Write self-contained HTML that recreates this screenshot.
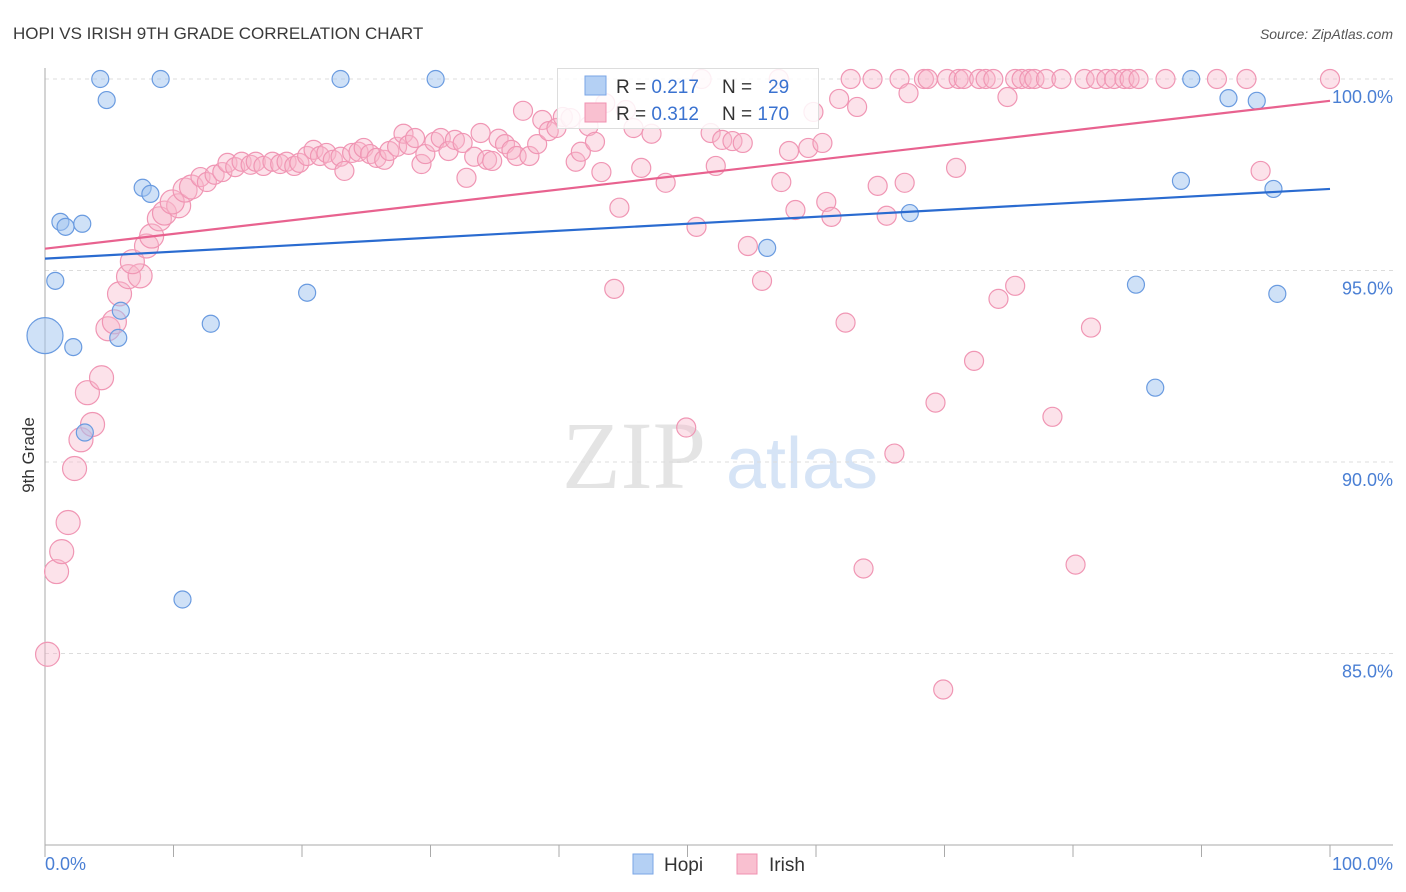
<!DOCTYPE html>
<html><head><meta charset="utf-8"><style>
body{margin:0;background:#fff;font-family:"Liberation Sans",sans-serif;}
svg{display:block}
</style></head><body>
<svg id="chart" width="1406" height="892" xmlns="http://www.w3.org/2000/svg">
<text x="13" y="39" font-size="17" fill="#3a3a3a">HOPI VS IRISH 9TH GRADE CORRELATION CHART</text>
<text x="1393" y="39" font-size="14" fill="#555" font-style="italic" text-anchor="end">Source: ZipAtlas.com</text>
<g>
<text x="634" y="488" font-size="96" font-family="Liberation Serif,serif" fill="#e4e4e4" text-anchor="middle">ZIP</text>
<text x="802" y="488" font-size="72" fill="#d6e4f6" text-anchor="middle">atlas</text>
</g>
<g id="grid"></g>
<g id="axes"></g>
<g id="pts"></g>
<g id="trends"></g>
<text transform="translate(34,455) rotate(-90)" font-size="17" fill="#333" text-anchor="middle">9th Grade</text>
<g>
<rect x="557.5" y="68.5" width="261" height="60" fill="#fff" fill-opacity="0.85" stroke="#ddd"/>
<rect x="585" y="76" width="21" height="19" fill="#b4d0f4" stroke="#7aa6e6"/>
<rect x="585" y="103" width="21" height="19" fill="#f9c0d0" stroke="#f090b0"/>
<text x="616" y="93" font-size="19" fill="#333">R = <tspan fill="#3a72d0">0.217</tspan></text>
<text x="722" y="93" font-size="19" fill="#333">N = <tspan fill="#3a72d0" x="768">29</tspan></text>
<text x="616" y="120" font-size="19" fill="#333">R = <tspan fill="#3a72d0">0.312</tspan></text>
<text x="722" y="120" font-size="19" fill="#333">N = <tspan fill="#3a72d0">170</tspan></text>
</g>
<g>
<rect x="633" y="854" width="20" height="20" fill="#b4d0f4" stroke="#7aa6e6"/>
<text x="664" y="871" font-size="19" fill="#333">Hopi</text>
<rect x="737" y="854" width="20" height="20" fill="#f9c0d0" stroke="#f090b0"/>
<text x="769" y="871" font-size="19" fill="#333">Irish</text>
</g>
</svg>
<script>
const hopiX=[4.3,9.0,23.0,30.4,4.8,89.2,92.1,94.3,7.6,8.2,1.2,1.6,2.9,0.8,0,2.2,5.9,5.7,20.4,12.9,3.1,10.7,67.3,56.2,88.4,95.6,84.9,95.9,86.4];
const hopiY=[100,100,100,100,99.45,100,99.5,99.43,97.16,97.0,96.27,96.14,96.22,94.73,93.3,93.0,93.95,93.24,94.42,93.61,90.77,86.41,96.5,95.59,97.34,97.13,94.63,94.39,91.94];
const irishX=[0.2,0.9,1.3,1.8,2.3,2.8,3.7,3.3,4.4,4.9,5.4,5.8,6.5,7.4,6.8,7.9,8.3,8.9,9.3,10.4,9.9,10.9,11.4,12.1,12.6,13.2,13.8,14.2,14.8,15.3,16.0,16.4,17.0,17.7,18.3,18.8,19.4,19.8,20.4,20.9,21.4,21.9,22.4,23.0,23.3,23.9,24.4,24.8,25.3,25.8,26.4,26.8,27.4,27.9,28.3,28.8,29.3,29.6,30.3,30.8,31.4,31.9,32.5,32.8,33.4,33.9,34.4,34.8,35.3,35.8,36.3,36.7,37.2,37.7,38.3,38.7,39.2,39.8,40.3,40.9,41.3,41.7,42.3,42.8,43.3,43.6,44.3,44.7,45.2,45.8,46.4,47.2,48.3,49.9,50.7,51.1,51.8,52.2,52.7,53.5,54.3,54.7,55.8,57.1,57.3,57.9,58.4,59.4,59.8,60.5,60.8,61.2,61.8,62.3,62.7,63.2,63.7,64.4,64.8,65.5,66.1,66.5,66.9,67.2,68.4,68.7,69.3,69.9,70.2,70.9,71.1,71.5,72.3,72.7,73.2,73.8,74.2,74.9,75.5,75.5,76.0,76.6,77.0,77.9,78.4,79.1,80.2,80.9,81.4,81.8,82.6,83.2,84.0,84.4,85.1,87.2,91.2,93.5,94.6,100];
const irishY=[84.98,87.14,87.66,88.42,89.83,90.58,90.98,91.81,92.2,93.48,93.66,94.39,94.84,94.86,95.23,95.64,95.9,96.35,96.5,96.69,96.79,97.1,97.18,97.44,97.31,97.5,97.57,97.81,97.7,97.84,97.76,97.84,97.73,97.84,97.78,97.84,97.73,97.81,97.99,98.15,97.99,98.07,97.89,97.97,97.6,98.07,98.1,98.2,98.04,97.94,97.89,98.12,98.23,98.57,98.28,98.46,97.78,98.04,98.36,98.46,98.12,98.41,98.33,97.42,97.97,98.59,97.89,97.86,98.44,98.3,98.15,97.99,99.17,97.99,98.3,98.93,98.64,98.72,99.01,98.98,97.84,98.1,98.77,98.36,97.57,99.37,94.52,96.64,99.19,98.72,97.68,98.57,97.29,90.9,96.14,100,98.59,97.73,98.41,98.38,98.33,95.64,94.73,100,97.31,98.12,96.58,98.2,99.14,98.33,96.79,96.4,99.48,93.64,100,99.27,87.22,100,97.21,96.43,90.22,100,97.29,99.63,100,100,91.55,84.06,100,97.68,100,100,92.64,100,100,100,94.26,99.53,100,94.6,100,100,100,100,91.18,100,87.32,100,93.51,100,100,100,100,100,100,100,100,100,97.6,100];
const hopiTrend=[95.31,97.13];
const irishTrend=[95.57,99.43];
const yTicks=[100,95,90,85];
const yTickLabels=["100.0%","95.0%","90.0%","85.0%"];
const xTicks=[0,10,20,30,40,50,60,70,80,90,100];

const NS="http://www.w3.org/2000/svg";
const X0=45,X1=1330,Y0=79,Y1=845;
const sx=v=>X0+(X1-X0)*v/100;
const sy=v=>Y0+(100-v)*(Y1-Y0)/20;
function mk(tag,attrs,parent){const e=document.createElementNS(NS,tag);for(const k in attrs)e.setAttribute(k,attrs[k]);parent.appendChild(e);return e;}
const grid=document.getElementById('grid'),axes=document.getElementById('axes'),pts=document.getElementById('pts'),trends=document.getElementById('trends');
yTicks.forEach((t,i)=>{
  const l=mk('line',{x1:X0,x2:1393,y1:sy(t),y2:sy(t),stroke:'#dcdcdc','stroke-dasharray':'4,4'},grid);
  
  
  const tx=mk('text',{x:1393,y:sy(t)+24,'font-size':18,fill:'#4a7fd4','text-anchor':'end'},axes);
  tx.textContent=yTickLabels[i];
  
  
});
let a=mk('line',{x1:X0,x2:X0,y1:68,y2:Y1,stroke:'#aaa'},axes);


a=mk('line',{x1:X0,x2:1393,y1:Y1,y2:Y1,stroke:'#aaa'},axes);


xTicks.forEach(t=>{
  const l=mk('line',{x1:sx(t),x2:sx(t),y1:Y1,y2:Y1+12,stroke:'#aaa'},axes);
  
  
});
let xl=mk('text',{x:45,y:870,'font-size':18,fill:'#4a7fd4'},axes);
xl.textContent='0.0%';


xl=mk('text',{x:1393,y:870,'font-size':18,fill:'#4a7fd4','text-anchor':'end'},axes);
xl.textContent='100.0%';


irishX.forEach((x,i)=>{
  const c=mk('circle',{cx:sx(x),cy:sy(irishY[i]),r:x<12?12:9.5,fill:'rgba(248,182,202,0.4)',stroke:'#f096b4','stroke-width':1.2},pts);
  
  
});
hopiX.forEach((x,i)=>{
  const c=mk('circle',{cx:sx(x),cy:sy(hopiY[i]),r:i===14?18:8.5,fill:'rgba(160,196,240,0.5)',stroke:'#6a9be0','stroke-width':1.2},pts);
  
  
});
let tl=mk('line',{x1:sx(0),y1:sy(hopiTrend[0]),x2:sx(100),y2:sy(hopiTrend[1]),stroke:'#2a6bd0','stroke-width':2.2},trends);


tl=mk('line',{x1:sx(0),y1:sy(irishTrend[0]),x2:sx(100),y2:sy(irishTrend[1]),stroke:'#e8628f','stroke-width':2.2},trends);


</script>
</body></html>
